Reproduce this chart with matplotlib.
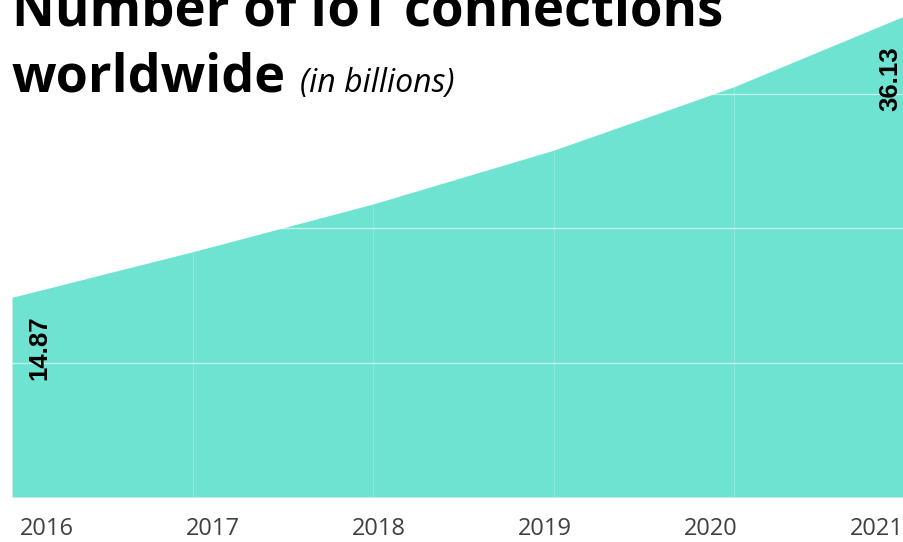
import matplotlib
matplotlib.use("Agg")
import matplotlib.pyplot as plt

# IoT connections worldwide, in billions
years = [2016, 2017, 2018, 2019, 2020, 2021]
connections = [14.87, 18.26, 21.82, 25.82, 30.55, 36.13]
year_labels = ["2016", "2017", "2018", "2019", "2020", "2021"]
grid_values = [10, 20, 30]

FILL = "#6fe3d1"
TITLE_FONT = ["Open Sans", "DejaVu Sans"]
VALUE_FONT = ["Liberation Sans", "DejaVu Sans"]

W, H = 904, 542
fig = plt.figure(figsize=(W / 100, H / 100), dpi=100)

# main area plot; the right end runs slightly past the canvas edge
left_px, bottom_px, right_px = 12, 497, 914.5
ax = fig.add_axes([left_px / W, (H - bottom_px) / H,
                   (right_px - left_px) / W, bottom_px / H])
ax.fill_between(years, connections, 0, color=FILL, linewidth=0, zorder=1)
ax.set_xlim(years[0], years[-1])
ax.set_ylim(0, bottom_px / 13.43)

for v in grid_values:
    ax.axhline(v, color="white", alpha=0.6, lw=0.9, zorder=2)
for x in years[1:-1]:
    ax.axvline(x, color="white", alpha=0.18, lw=0.9, zorder=2)

ax.set_xticks([])
ax.set_yticks([])
for s in ax.spines.values():
    s.set_visible(False)
ax.patch.set_alpha(0)

# value labels at both ends
ax.annotate(f"{connections[0]:.2f}", xy=(years[0], connections[0]),
            xytext=(19.5, -13), textcoords="offset points",
            rotation=90, ha="center", va="top", fontsize=18.5,
            fontweight="bold", family=VALUE_FONT, color="black", zorder=3)
ax.annotate(f"{connections[-1]:.2f}", xy=(years[-1], connections[-1]),
            xytext=(-17.6, -25), textcoords="offset points",
            rotation=90, ha="center", va="top", fontsize=18.5,
            fontweight="bold", family=VALUE_FONT, color="black", zorder=3)

# year labels row, evenly spread across the canvas
lbl_y = 514
ax_lbl = fig.add_axes([0, (H - lbl_y) / H, 1, 0.001])
ax_lbl.set_xlim(2016 - 47 / 166, 2016 + 857 / 166)
ax_lbl.set_xticks(years, year_labels)
ax_lbl.tick_params(axis="x", length=0, pad=2, labelsize=17,
                   labelcolor="#404040")
for lab in ax_lbl.get_xticklabels():
    lab.set_family(TITLE_FONT)
ax_lbl.set_yticks([])
for s in ax_lbl.spines.values():
    s.set_visible(False)
ax_lbl.patch.set_alpha(0)

# title
fig.text(12 / W, 1 - 25 / H, "Number of IoT connections", family=TITLE_FONT,
         fontsize=37.9, fontweight="bold", va="baseline", ha="left")
fig.text(12 / W, 1 - 92 / H, "worldwide", family=TITLE_FONT,
         fontsize=37.5, fontweight="bold", va="baseline", ha="left")
fig.text(300 / W, 1 - 92 / H, "(in billions)", family=TITLE_FONT,
         fontsize=23, style="italic", va="baseline", ha="left")

fig.savefig("out.png", dpi=100)
